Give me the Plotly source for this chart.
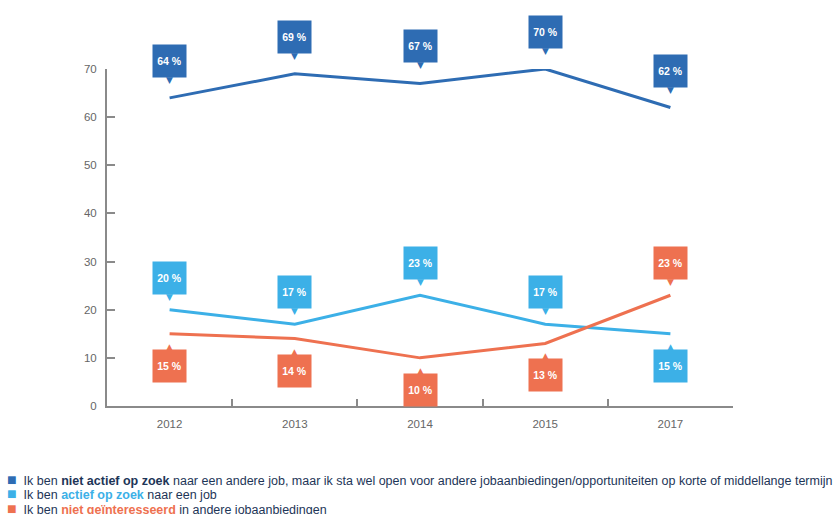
import plotly.graph_objects as go

years = ["2012", "2013", "2014", "2015", "2017"]
niet_actief = [64, 69, 67, 70, 62]
actief = [20, 17, 23, 17, 15]
niet_geint = [15, 14, 10, 13, 23]

series_names = [
    "Ik ben <b>niet actief op zoek</b> naar een andere job, maar ik sta wel open voor andere jobaanbiedingen/opportuniteiten op korte of middellange termijn",
    "Ik ben <b>actief op zoek</b> naar een job",
    "Ik ben <b>niet geïnteresseerd</b> in andere jobaanbiedingen",
]
colors = ["#2e6cb3", "#3cb0e7", "#ee7150"]
bold_colors = ["#1d3557", "#3cb0e7", "#ee7150"]
label_offsets = [37, 32, 32]
y_ticks = [0, 10, 20, 30, 40, 50, 60, 70]

W, H = 839, 514
ML, MR, MT, MB = 107, 106, 69, 108
PW, PH = W - ML - MR, H - MT - MB
FONT = "Liberation Sans, Arial, sans-serif"
TXT = "#1d3557"
GREY = "#8a8a8a"

fig = go.Figure()
all_series = [niet_actief, actief, niet_geint]
for vals, col in zip(all_series, colors):
    fig.add_trace(go.Scatter(x=years, y=vals, mode="lines",
                             line=dict(color=col, width=3), showlegend=False,
                             hoverinfo="skip"))

annotations = []
for si, (vals, col, off) in enumerate(zip(all_series, colors, label_offsets)):
    for i, v in enumerate(vals):
        if si == 0:
            up = True
        else:
            other = all_series[2 if si == 1 else 1][i]
            up = v > other
        sgn = 1 if up else -1
        annotations.append(dict(
            x=i, y=v, xref="x", yref="y", text=f"<b>{v} %</b>", showarrow=False,
            yshift=sgn * off, width=33, height=32, bgcolor=col, borderpad=0,
            font=dict(family=FONT, size=10.5, color="white"),
            xanchor="center", yanchor="middle"))
        annotations.append(dict(
            x=i, y=v, xref="x", yref="y", text="▼" if up else "▲", showarrow=False,
            yshift=sgn * (off - 19), font=dict(family="DejaVu Sans", size=9, color=col),
            xanchor="center", yanchor="middle"))

def px2paper(px, py):
    return (px - ML) / PW, (H - MB - py) / PH

for k, (name, col, bc) in enumerate(zip(series_names, colors, bold_colors)):
    nm = name.replace("<b>", f"<span style='color:{bc}'><b>").replace("</b>", "</b></span>")
    xp, yp = px2paper(6, 479 + 14.5 * k)
    annotations.append(dict(
        x=xp, y=yp, xref="paper", yref="paper", showarrow=False,
        text=f"<span style='color:{col};font-size:16px'>■</span>&nbsp;&nbsp;{nm}",
        xanchor="left", yanchor="middle", align="left", borderpad=0,
        font=dict(family=FONT, size=12.5, color=TXT)))

fig.update_layout(
    width=W, height=H,
    margin=dict(l=ML, r=MR, t=MT, b=MB, pad=0),
    plot_bgcolor="white", paper_bgcolor="white",
    font=dict(family=FONT, size=11, color="#666666"),
    xaxis=dict(type="category", range=[-0.5, 4.5], showline=True, linecolor=GREY,
               linewidth=2, ticks="inside", tickson="boundaries", ticklen=7,
               tickcolor=GREY, tickwidth=1.5, showgrid=False, zeroline=False,
               ticklabelstandoff=6, tickfont=dict(size=11.5, color="#666666")),
    yaxis=dict(range=[0, 70], tickvals=y_ticks, showline=True, linecolor=GREY,
               linewidth=2, ticks="inside", ticklen=8, tickcolor=GREY, tickwidth=1.5,
               showgrid=False, zeroline=False, ticklabelstandoff=6,
               tickfont=dict(size=11.5, color="#666666")),
    annotations=annotations,
    showlegend=False,
)

fig.write_html("out.html")
